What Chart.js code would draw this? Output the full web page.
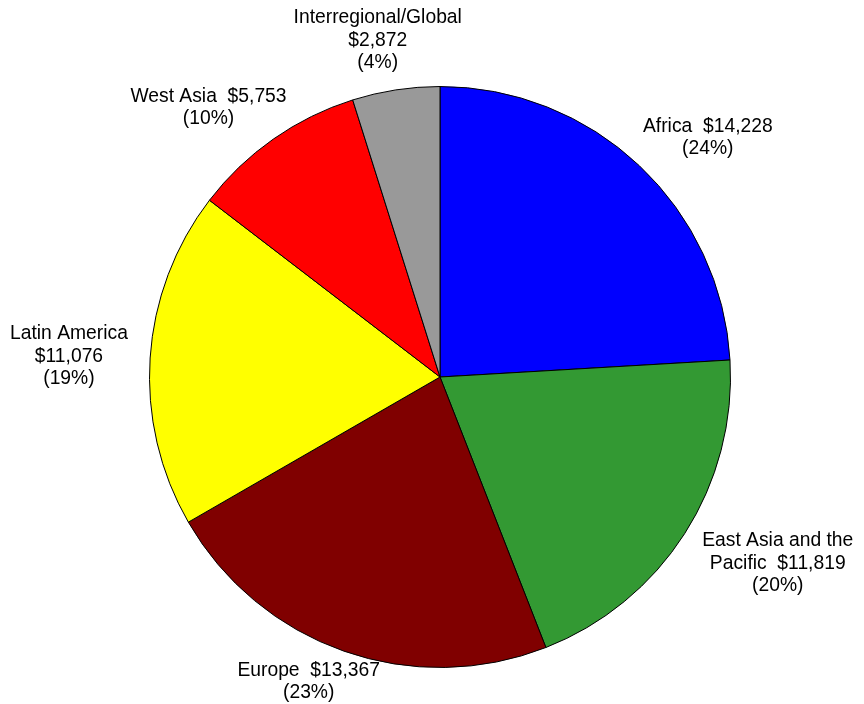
<!DOCTYPE html>
<html>
<head>
<meta charset="utf-8">
<script src="https://cdn.jsdelivr.net/npm/chart.js@4/dist/chart.umd.min.js"></script>
<style>
  html, body { margin: 0; padding: 0; background: #fff; }
  #wrap { width: 864px; height: 704px; }
</style>
</head>
<body>
<div id="wrap"><canvas id="pie"></canvas></div>
<script>
// Regions, clockwise from 12 o'clock
const regions = [
  ['Africa'],
  ['East Asia and the', 'Pacific'],
  ['Europe'],
  ['Latin America'],
  ['West Asia'],
  ['Interregional/Global']
];
const amounts = [14228, 11819, 13367, 11076, 5753, 2872];
const shares = ['24%', '20%', '23%', '19%', '10%', '4%'];
const sliceColors = ['#0000ff', '#339933', '#800000', '#ffff00', '#ff0000', '#999999'];

// whether the amount sits on the last name line or on its own line
const amountOwnLine = [false, false, false, true, false, true];

function money(v) {
  return '$' + v.toLocaleString('en-US');
}

function labelLines(i) {
  const name = regions[i].slice();
  if (amountOwnLine[i]) {
    name.push(money(amounts[i]));
  } else {
    name[name.length - 1] += '  ' + money(amounts[i]);
  }
  name.push('(' + shares[i] + ')');
  return name;
}

// draws the outside labels next to each slice, kept inside the canvas
const outsideLabels = {
  id: 'outsideLabels',
  afterDraw(chart) {
    const ctx = chart.ctx;
    const meta = chart.getDatasetMeta(0);
    const lineH = 22.5;
    const edge = 10;
    ctx.save();
    ctx.font = '19.3px "Liberation Sans", Arial, sans-serif';
    ctx.fillStyle = '#000';
    ctx.textAlign = 'center';
    ctx.textBaseline = 'alphabetic';
    meta.data.forEach((arc, i) => {
      const mid = (arc.startAngle + arc.endAngle) / 2;
      const cos = Math.cos(mid), sin = Math.sin(mid);
      const lines = labelLines(i);
      const w = Math.max(...lines.map(s => ctx.measureText(s).width));
      const h = lines.length * lineH;
      const r = arc.outerRadius + 10;
      let cx = arc.x + cos * (r + w / 2 + 25);
      let cy = arc.y + sin * (r + h / 2 + 8);
      cx = Math.min(Math.max(cx, w / 2 + edge), chart.width - w / 2 - edge);
      // first baseline
      let top = cy - h / 2 + lineH * 0.5 + 7;
      const lastMax = chart.height - 6;
      if (top + lineH * (lines.length - 1) > lastMax) {
        top = lastMax - lineH * (lines.length - 1);
      }
      lines.forEach((s, k) => {
        ctx.fillText(s, cx, top + lineH * k);
      });
    });
    ctx.restore();
  }
};

new Chart(document.getElementById('pie'), {
  type: 'pie',
  data: {
    labels: regions.map(r => r.join(' ')),
    datasets: [{
      data: amounts,
      backgroundColor: sliceColors,
      borderColor: '#000',
      borderWidth: 1
    }]
  },
  options: {
    responsive: true,
    maintainAspectRatio: false,
    animation: false,
    layout: { padding: { top: 86, bottom: 36, left: 149, right: 133 } },
    plugins: {
      legend: { display: false },
      tooltip: { enabled: false }
    }
  },
  plugins: [outsideLabels]
});
</script>
</body>
</html>
